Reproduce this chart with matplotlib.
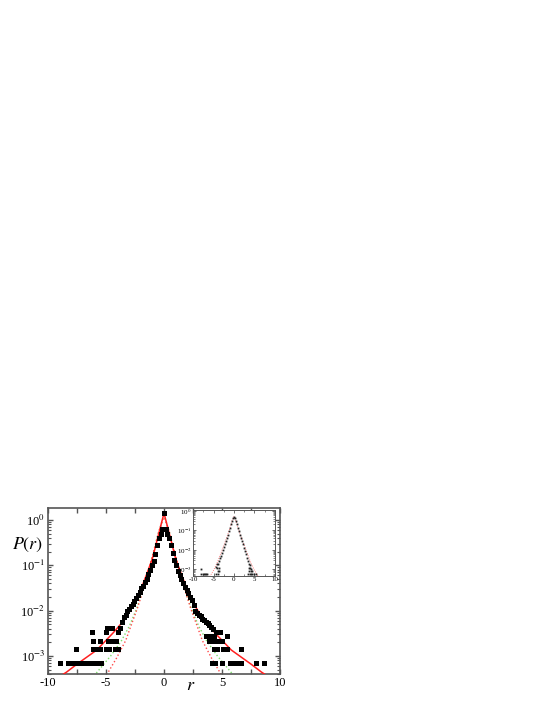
import matplotlib
matplotlib.use('Agg')
import matplotlib.pyplot as plt
from matplotlib.ticker import MultipleLocator, LogLocator, NullFormatter

plt.rcParams['font.family'] = ['Liberation Serif', 'DejaVu Serif']
plt.rcParams['mathtext.fontset'] = 'stix'
plt.rcParams['axes.unicode_minus'] = False

# ---- main panel: histogram of r (black squares) ----
tail_r = [-9.0, -8.3, -8.0, -7.7, -7.4, -7.0, -6.7, -6.4, -6.0, -5.7, -5.4,
          -7.6, -6.1, -5.8, -5.5, -5.0, -4.7, -4.2, -3.95,
          -6.1, -5.5, -4.8, -4.5, -4.1,
          -6.2, -5.0, -4.0,
          -4.9, -4.5, -3.8,
          4.1, 4.4, 5.0, 5.7, 6.0, 6.3, 6.6, 7.9, 8.6,
          4.3, 4.6, 5.1, 5.4, 6.6,
          3.85, 4.15, 4.55, 5.0,
          3.6, 4.0, 4.3, 5.4,
          4.85, 4.45]
tail_p = [7e-4] * 11 + [1.4e-3] * 8 + [2.1e-3] * 5 + [3.4e-3] * 3 + [4.1e-3] * 3 + \
         [7e-4] * 9 + [1.4e-3] * 5 + [2.1e-3] * 4 + [2.8e-3] * 4 + [3.4e-3] * 2

core_r = [-3.6, -3.45, -3.3, -3.15, -3.0, -2.85, -2.7, -2.55, -2.4, -2.25, -2.1, -1.95,
          -1.8, -1.65, -1.5, -1.35, -1.2, -1.05, -0.9, -0.75, -0.6, -0.45, -0.3, -0.15, 0.0,
          0.15, 0.3, 0.45, 0.6, 0.75, 0.9, 1.05, 1.2, 1.35, 1.5, 1.65, 1.8, 1.95, 2.1,
          2.25, 2.4, 2.55, 2.7, 2.85, 3.0, 3.15, 3.3, 3.45, 3.6, 3.75, 3.9, 4.05, 4.2]
core_p = [0.0056, 0.0071, 0.0079, 0.010, 0.0107, 0.0126, 0.014, 0.0166, 0.019, 0.022, 0.026, 0.032,
          0.035, 0.042, 0.050, 0.063, 0.079, 0.10, 0.126, 0.178, 0.28, 0.40, 0.50, 0.63, 1.41,
          0.63, 0.50, 0.40, 0.28, 0.19, 0.13, 0.10, 0.076, 0.060, 0.050, 0.040, 0.033, 0.028, 0.024,
          0.020, 0.017, 0.0132, 0.010, 0.0089, 0.0079, 0.0076, 0.0066, 0.0063, 0.0056, 0.0052, 0.0047, 0.0044, 0.0040]

# fitted curves
fit_r = [-9.0, -8.4, -7.5, -5.8, -4.4, -3.4, -2.8, -2.1, -1.5, -1.0, -0.5, -0.25, 0.0,
         0.25, 0.5, 1.0, 1.5, 2.1, 2.8, 3.4, 4.4, 5.8, 7.5, 8.4, 9.0]
fit_p = [0.00035, 0.00044, 0.00066, 0.00135, 0.0032, 0.0063, 0.0112, 0.025, 0.063, 0.141, 0.45, 0.8, 1.41,
         0.8, 0.45, 0.141, 0.063, 0.025, 0.0112, 0.0063, 0.0032, 0.00135, 0.00066, 0.00044, 0.00035]

green_r = [-6.5, -5.9, -4.6, -3.7, -3.0, -2.35, -1.5, -1.0, -0.5, 0.0,
           0.5, 1.0, 1.5, 2.35, 3.0, 3.7, 4.6, 5.9, 6.5]
green_p = [0.00028, 0.0004, 0.001, 0.0021, 0.0045, 0.0112, 0.05, 0.158, 0.5, 1.26,
           0.5, 0.158, 0.05, 0.0112, 0.0045, 0.0021, 0.001, 0.0004, 0.00028]

gauss_r = [-5.3, -4.9, -4.1, -3.3, -2.8, -2.3, -1.5, -1.0, -0.5, 0.0,
           0.5, 1.0, 1.5, 2.3, 2.8, 3.3, 4.1, 4.9, 5.3]
gauss_p = [0.00028, 0.0004, 0.00089, 0.0022, 0.005, 0.0112, 0.05, 0.158, 0.5, 1.26,
           0.5, 0.158, 0.05, 0.0112, 0.005, 0.0022, 0.00089, 0.0004, 0.00028]

# ---- inset ----
ins_r = [-4.5, -4.25, -4.0, -3.75, -3.5, -3.25, -3.0, -2.75, -2.5, -2.25, -2.0, -1.75, -1.5,
         -1.25, -1.0, -0.75, -0.5, -0.25, 0.0, 0.25, 0.5, 0.75, 1.0, 1.25, 1.5, 1.75, 2.0,
         2.25, 2.5, 2.75, 3.0, 3.25, 3.5, 3.75, 4.0, 4.25, 4.5,
         -8.0, -7.5, -7.2, -7.0, -6.8, -6.5, -4.3, -3.9, 3.5, 3.9, 4.2, 4.5, 5.0, 5.4,
         -8.0, -4.0, -3.6, 3.6, 4.2, -4.2, -3.7, 3.7, 4.0]
ins_p = [0.0014, 0.002, 0.0018, 0.0028, 0.004, 0.005, 0.0071, 0.01, 0.014, 0.02, 0.028, 0.04, 0.06,
         0.089, 0.13, 0.2, 0.3, 0.42, 0.5, 0.42, 0.3, 0.2, 0.13, 0.089, 0.06, 0.04, 0.028,
         0.019, 0.0126, 0.0089, 0.0063, 0.004, 0.0028, 0.002, 0.0016, 0.0011, 0.0008,
         0.0006, 0.0006, 0.0006, 0.0006, 0.0006, 0.0006, 0.0006, 0.0006, 0.0006, 0.0006,
         0.0006, 0.0006, 0.0006, 0.0006,
         0.001, 0.0008, 0.0008, 0.0008, 0.0008, 0.0012, 0.0012, 0.0012, 0.0012]

ins_fit_r = [-6.5, -6.0, -5.0, -4.0, -3.0, -2.0, -1.0, -0.5, 0.0, 0.5, 1.0, 2.0, 3.0, 4.0, 5.0, 6.0, 6.5]
ins_fit_p = [0.00028, 0.0004, 0.00089, 0.0025, 0.0089, 0.0316, 0.126, 0.3, 0.5,
             0.3, 0.126, 0.0316, 0.0089, 0.0025, 0.00089, 0.0004, 0.00028]

spine_col = '#555555'

fig = plt.figure(figsize=(5.48, 7.09), dpi=100)
ax = fig.add_axes([0.0876, 0.0494, 0.4234, 0.2341])

ax.plot(fit_r, fit_p, '-', color='#ff2020', lw=1.1, zorder=3)
ax.plot(green_r, green_p, ':', color='#7ddc6a', lw=1.0, zorder=2)
ax.plot(gauss_r, gauss_p, ':', color='#ff4a4a', lw=1.0, zorder=2)
ax.plot(tail_r, tail_p, 's', color='black', ms=3.6, mew=0, zorder=4)
ax.plot(core_r, core_p, 's', color='black', ms=3.6, mew=0, zorder=4)

ax.set_yscale('log')
ax.set_xlim(-10, 10)
ax.set_ylim(4.0e-4, 1.84)
ax.xaxis.set_major_locator(MultipleLocator(5))
ax.xaxis.set_minor_locator(MultipleLocator(2.5))
ax.set_yticks([1e-3, 1e-2, 1e-1, 1])
ax.set_yticklabels(['10$^{-3}$', '10$^{-2}$', '10$^{-1}$', '10$^{0}$'])
ax.yaxis.set_minor_locator(LogLocator(base=10, subs=range(2, 10), numticks=20))
ax.yaxis.set_minor_formatter(NullFormatter())
ax.tick_params(which='both', direction='in', top=True, right=True, color=spine_col,
               labelsize=9, pad=2)
ax.tick_params(which='major', length=3.5, width=1)
ax.tick_params(which='minor', length=2.5, width=0.8)
ax.tick_params(axis='x', which='minor', length=3.5, width=1)
for s in ax.spines.values():
    s.set_color(spine_col)
    s.set_linewidth(1.2)

fig.text(28 / 548, 1 - 545 / 709, '$P(r)$', fontsize=13, ha='center', va='center')
fig.text(191 / 548, 1 - 685 / 709, '$r$', fontsize=13, ha='center', va='center')

# inset
axi = fig.add_axes([0.3522, 0.1876, 0.1496, 0.0931])
axi.plot(ins_fit_r, ins_fit_p, ':', color='#ff6060', lw=0.6, zorder=2)
axi.plot(ins_r, ins_p, 's', color='#222222', ms=1.3, mew=0, zorder=3)
axi.set_yscale('log')
axi.set_xlim(-10, 10)
axi.set_ylim(4.6e-4, 1.1)
axi.xaxis.set_major_locator(MultipleLocator(5))
axi.xaxis.set_minor_locator(MultipleLocator(2.5))
axi.set_yticks([1e-3, 1e-2, 1e-1, 1])
axi.set_yticklabels(['10$^{-3}$', '10$^{-2}$', '10$^{-1}$', '10$^{0}$'])
axi.yaxis.set_minor_locator(LogLocator(base=10, subs=range(2, 10), numticks=20))
axi.yaxis.set_minor_formatter(NullFormatter())
axi.tick_params(which='both', direction='in', top=True, right=True, color=spine_col,
                labelsize=5, pad=1)
axi.tick_params(which='major', length=2, width=0.6)
axi.tick_params(which='minor', length=1.2, width=0.5)
for s in axi.spines.values():
    s.set_color(spine_col)
    s.set_linewidth(0.7)

plt.savefig('out.png', dpi=100)
plt.close()
